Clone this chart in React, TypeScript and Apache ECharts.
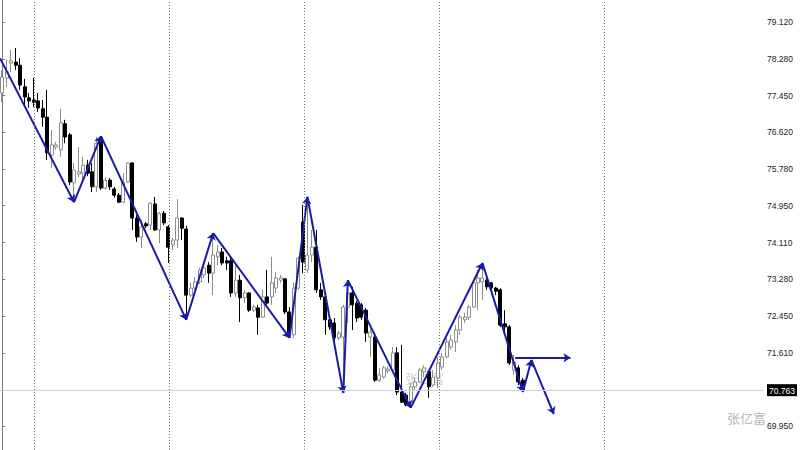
import React, { useEffect, useRef } from "react";
import * as echarts from "echarts";

// slot count across the plot (history + empty future area)
const slotCount = 170;
const categories: string[] = Array.from({ length: slotCount }, (_, i) => String(i));

const opens = [
  77.51, 77.85, 78.19, 78.21, 78.14, 77.65, 77.40, 77.35, 77.33, 77.15,
  76.96, 76.10, 76.28, 76.22, 76.81, 76.56, 75.47, 75.67, 75.69, 75.87,
  75.72, 75.38, 76.49, 75.35, 75.53, 75.33, 75.19, 75.03, 75.49, 75.92,
  74.67, 74.24, 74.54, 74.51, 74.99, 74.40, 74.78, 74.47, 74.06, 74.17,
  74.67, 74.42, 72.92, 73.08, 73.22, 73.38, 73.60, 73.42, 73.79, 73.90,
  73.70, 73.70, 72.97, 73.26, 72.86, 72.97, 72.58, 72.63, 72.42, 72.88,
  72.88, 73.08, 73.26, 73.29, 72.54, 72.02, 73.08, 74.58, 73.49, 73.83,
  74.01, 73.04, 72.88, 72.36, 72.29, 71.95, 71.97, 72.65, 72.97, 72.74,
  72.70, 72.58, 71.97, 71.97, 70.99, 71.06, 71.20, 71.22, 71.61, 70.72,
  70.65, 70.49, 70.84, 70.95, 71.18, 71.18, 70.88, 71.04, 71.29, 71.52,
  71.74, 71.86, 72.13, 72.36, 72.42, 72.65, 73.20, 73.22, 73.26, 73.20,
  73.08, 73.04, 72.27, 72.20, 71.22, 71.27, 70.99,
];
const closes = [
  77.87, 77.99, 78.24, 78.14, 77.69, 77.42, 77.33, 77.30, 77.17, 76.96,
  76.15, 76.33, 76.33, 76.83, 76.51, 75.49, 75.76, 75.72, 75.87, 75.69,
  75.38, 76.37, 75.35, 75.53, 75.38, 75.19, 75.03, 75.49, 75.92, 74.67,
  74.24, 74.47, 74.49, 75.01, 74.40, 74.78, 74.56, 74.01, 74.17, 74.67,
  74.44, 72.92, 73.08, 73.22, 73.49, 73.54, 73.42, 73.83, 73.90, 73.65,
  73.65, 72.97, 73.26, 72.86, 72.97, 72.58, 72.65, 72.42, 72.88, 72.74,
  73.20, 73.31, 73.31, 72.54, 72.02, 73.08, 73.76, 73.67, 73.83, 74.01,
  73.04, 72.88, 72.36, 72.20, 71.95, 72.06, 72.65, 72.97, 72.70, 72.40,
  72.42, 72.06, 72.08, 70.99, 71.11, 71.27, 71.24, 71.61, 70.72, 70.49,
  70.43, 70.84, 70.95, 71.22, 71.27, 70.84, 71.06, 71.38, 71.52, 71.86,
  71.90, 72.13, 72.42, 72.42, 72.65, 73.20, 73.31, 73.31, 73.11, 73.08,
  73.01, 72.24, 72.20, 71.38, 71.40, 70.95, 70.763,
];
const lows = [
  77.30, 77.65, 77.99, 78.03, 77.58, 77.19, 77.17, 77.19, 77.08, 76.74,
  75.99, 75.81, 76.22, 76.06, 76.37, 75.42, 75.03, 75.60, 75.53, 75.62,
  75.26, 75.26, 75.31, 75.31, 75.31, 75.13, 75.01, 75.01, 75.47, 74.40,
  74.13, 73.99, 74.44, 74.40, 74.38, 74.10, 74.51, 73.65, 73.95, 73.99,
  74.17, 72.36, 72.88, 73.04, 73.17, 73.31, 73.20, 72.92, 73.60, 73.60,
  73.49, 72.88, 72.88, 72.31, 72.74, 72.54, 72.54, 72.02, 72.40, 72.70,
  72.70, 72.97, 73.20, 72.49, 71.95, 71.95, 73.04, 73.42, 73.42, 73.67,
  72.97, 72.81, 72.02, 72.13, 71.90, 71.90, 70.70, 72.29, 72.13, 72.31,
  72.36, 71.86, 71.52, 70.95, 70.95, 71.02, 71.15, 71.18, 70.65, 70.47,
  70.40, 70.36, 70.77, 70.93, 71.06, 70.59, 70.84, 70.81, 71.22, 71.49,
  71.68, 71.63, 72.02, 72.29, 72.36, 72.63, 72.58, 72.81, 73.04, 72.99,
  72.92, 72.20, 72.06, 71.33, 71.11, 70.88, 70.72,
];
const highs = [
  78.03, 78.26, 78.49, 78.53, 78.30, 77.83, 77.51, 77.85, 77.51, 77.35,
  77.58, 76.67, 76.40, 77.15, 76.90, 76.60, 75.92, 76.28, 76.06, 75.99,
  75.92, 76.51, 76.53, 75.60, 75.58, 75.38, 75.24, 75.69, 75.94, 75.94,
  74.74, 74.63, 74.58, 75.03, 75.15, 74.81, 74.83, 74.51, 74.22, 75.10,
  74.69, 74.49, 73.20, 73.33, 73.54, 73.60, 73.67, 74.33, 74.06, 73.99,
  73.79, 73.79, 73.60, 73.38, 73.04, 72.99, 72.70, 72.70, 73.04, 73.49,
  73.79, 73.45, 73.38, 73.31, 72.65, 73.20, 73.79, 74.97, 75.15, 74.40,
  74.40, 73.20, 72.97, 72.40, 72.40, 72.11, 72.70, 73.26, 73.11, 72.79,
  72.74, 72.63, 72.17, 72.02, 71.27, 71.31, 71.31, 71.74, 71.74, 71.79,
  70.70, 70.93, 71.04, 71.27, 71.33, 71.22, 71.22, 71.52, 71.61, 71.95,
  72.02, 72.24, 72.47, 72.52, 72.70, 73.22, 73.49, 73.65, 73.33, 73.22,
  73.11, 73.08, 72.58, 72.24, 71.56, 71.33, 71.04,
];

// zigzag pivots (slot index, price)
const zigIdx = [-0.5, 16, 22, 41, 47, 64, 68, 76, 77, 91, 107, 116];
const zigPrice = [78.30, 75.03, 76.53, 72.36, 74.33, 71.95, 75.15, 70.70, 73.26, 70.36, 73.65, 70.72];
// projected path
const projIdx = [116, 117.9, 122.9];
const projPrice = [70.72, 71.45, 70.22];
// horizontal level arrow
const levelIdx = [114.3, 126.6];
const levelPrice = 71.50;

const separators = [7.2, 37.3, 67.3, 97.4, 134.2];
const tickValues = [69.95, 71.61, 72.45, 73.28, 74.11, 74.95, 75.78, 76.62, 77.45, 78.28, 79.12];
const currentPrice = 70.763;
const yMin = 69.405;
const yMax = 79.62;

const BLUE = "#1a1aa3";

export default function App() {
  const ref = useRef<HTMLDivElement>(null);
  useEffect(() => {
    if (!ref.current) return;
    const chart = echarts.init(ref.current, undefined, { renderer: "svg" });
    const candleData = opens.map((o, i) => [o, closes[i], lows[i], highs[i]]);
    const segs: any[] = [];
    for (let i = 0; i < zigIdx.length - 1; i++) {
      segs.push({ coords: [[zigIdx[i], zigPrice[i]], [zigIdx[i + 1], zigPrice[i + 1]]] });
    }
    for (let i = 0; i < projIdx.length - 1; i++) {
      segs.push({ coords: [[projIdx[i], projPrice[i]], [projIdx[i + 1], projPrice[i + 1]]] });
    }
    segs.push({ coords: [[levelIdx[0], levelPrice], [levelIdx[1], levelPrice]] });

    chart.setOption({
      animation: false,
      backgroundColor: "#ffffff",
      grid: { left: 0, right: 32, top: 0, bottom: 0 },
      xAxis: [
        {
          type: "category",
          data: categories,
          boundaryGap: true,
          show: false,
        },
        {
          type: "value",
          min: -0.5,
          max: slotCount - 0.5,
          show: false,
        },
      ],
      yAxis: {
        type: "value",
        position: "right",
        min: yMin,
        max: yMax,
        scale: true,
        splitLine: { show: false },
        axisLine: { show: true, lineStyle: { color: "#7a7a7a", width: 1 } },
        axisTick: {
          show: true,
          length: 3,
          customValues: tickValues,
          lineStyle: { color: "#7a7a7a" },
        },
        axisLabel: {
          show: true,
          margin: 4,
          customValues: [...tickValues, currentPrice],
          fontFamily: "Liberation Sans, Arial, sans-serif",
          fontSize: 8.5,
          color: "#222",
          formatter: (v: number) =>
            Math.abs(v - currentPrice) < 1e-6 ? `{cur|${v.toFixed(3)}}` : v.toFixed(3),
          rich: {
            cur: {
              backgroundColor: "#000",
              color: "#fff",
              fontFamily: "Liberation Sans, Arial, sans-serif",
              fontSize: 8.5,
              padding: [2, 2, 1, 2],
            },
          },
        },
      },
      graphic: [
        {
          type: "text",
          left: 405,
          top: 371,
          z: 0,
          style: { text: "张亿富", fill: "#d2d2d2", fontSize: 13, fontFamily: "Noto Sans CJK SC" },
        },
        {
          type: "text",
          left: 727,
          top: 411,
          z: 0,
          style: { text: "张亿富", fill: "#b8b8b8", fontSize: 13, fontFamily: "Noto Sans CJK SC" },
        },
      ],
      series: [
        {
          type: "candlestick",
          xAxisIndex: 0,
          yAxisIndex: 0,
          data: candleData,
          barWidth: 3.5,
          itemStyle: {
            color: "#ffffff",
            color0: "#000000",
            borderColor: "#8c8c8c",
            borderColor0: "#000000",
            borderWidth: 1,
          },
          markLine: {
            silent: true,
            symbol: "none",
            label: { show: false },
            lineStyle: { color: "#cfcfcf", type: "solid", width: 1 },
            data: [{ yAxis: currentPrice }],
          },
          z: 2,
        },
        {
          type: "lines",
          coordinateSystem: "cartesian2d",
          xAxisIndex: 1,
          yAxisIndex: 0,
          polyline: false,
          symbol: ["none", "arrow"],
          symbolSize: 7,
          lineStyle: { color: BLUE, width: 2, opacity: 1 },
          data: segs,
          z: 4,
          markLine: {
            silent: true,
            symbol: "none",
            label: { show: false },
            lineStyle: { color: "#777", type: [1, 2], width: 1 },
            data: separators.map((x) => ({ xAxis: x })),
          },
        },
      ],
    });
    return () => chart.dispose();
  }, []);
  return (
    <div
      ref={ref}
      style={{ position: "fixed", left: 0, top: 0, width: 800, height: 450 }}
    />
  );
}
